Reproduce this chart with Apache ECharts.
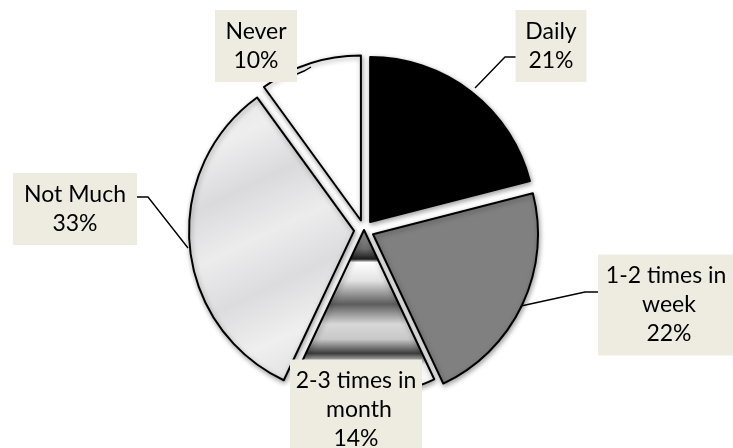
<!DOCTYPE html>
<html>
<head>
<meta charset="utf-8">
<script src="https://cdn.jsdelivr.net/npm/echarts@6.0.0/dist/echarts.min.js"></script>
<style>
html, body { margin: 0; padding: 0; background: #fff; }
#chart { width: 733px; height: 448px; }
</style>
</head>
<body>
<div id="chart"></div>
<script>
// survey answers, clockwise from 12 o'clock
var categories = ['Daily', '1-2 times in week', '2-3 times in month', 'Not Much', 'Never'];
var shares = [21, 22, 14, 33, 10];
// Excel exploded every slice except the small one
var exploded = [true, true, false, true, true];

var echarts = window.echarts;

// stripey metallic fill of the "2-3 times in month" slice
var stripes = new echarts.graphic.LinearGradient(0, 0, 0, 1, [
    { offset: 0.00, color: '#a8a8a8' },
    { offset: 0.12, color: '#6a6a6a' },
    { offset: 0.18, color: '#1c1c1c' },
    { offset: 0.20, color: '#ffffff' },
    { offset: 0.31, color: '#e2e2e2' },
    { offset: 0.45, color: '#5c5c5c' },
    { offset: 0.57, color: '#d8d8d8' },
    { offset: 0.66, color: '#c8c8c8' },
    { offset: 0.745, color: '#3c3c3c' },
    { offset: 0.81, color: '#f2f2f2' },
    { offset: 1.00, color: '#ffffff' }
]);

// light marble look for "Not Much"
var marble = new echarts.graphic.LinearGradient(0, 0, 0.8, 1, [
    { offset: 0.00, color: '#e4e4e6' },
    { offset: 0.18, color: '#eeeeef' },
    { offset: 0.34, color: '#dadadc' },
    { offset: 0.50, color: '#ececed' },
    { offset: 0.66, color: '#dcdcde' },
    { offset: 0.82, color: '#efefef' },
    { offset: 1.00, color: '#dedee0' }
]);

var fills = ['#000000', '#808080', stripes, marble, '#ffffff'];

// where the label boxes sit (box centre) and the leader line of each
var labelSpots = [
    { x: 551, y: 46, width: 63, line: [[475, 88], [505, 57], [516, 57]] },
    { x: 669, y: 305, width: 134, line: [[521, 306], [585, 292], [598, 292]] },
    { x: 356, y: 410, width: 124, line: null },
    { x: 75, y: 209, width: 116, line: [[188, 248], [148, 197], [137, 197]] },
    { x: 256, y: 46, width: 74, line: [[311, 67], [304, 71], [297, 74]] }
];

var pieData = [];
var labelData = [];
for (var i = 0; i < categories.length; i++) {
    pieData.push({
        name: categories[i],
        value: shares[i],
        selected: exploded[i],
        itemStyle: { color: fills[i] }
    });
    labelData.push({
        name: categories[i],
        value: shares[i],
        label: { width: labelSpots[i].width },
        labelLine: { show: labelSpots[i].line !== null }
    });
}

var options = {
    animation: false,
    backgroundColor: '#ffffff',
    series: [
        {
            type: 'pie',
            center: [364, 230],
            radius: 165,
            startAngle: 90,
            clockwise: true,
            selectedMode: 'multiple',
            selectedOffset: 10,
            data: pieData,
            label: { show: false },
            labelLine: { show: false },
            itemStyle: {
                borderColor: '#000000',
                borderWidth: 2,
                shadowBlur: 5,
                shadowColor: 'rgba(0,0,0,0.35)',
                shadowOffsetX: 1,
                shadowOffsetY: 2
            },
            select: {
                itemStyle: { borderColor: '#000000', borderWidth: 2 }
            }
        },
        {
            // same pie again, invisible, only to carry the label boxes
            type: 'pie',
            center: [364, 230],
            radius: 165,
            startAngle: 90,
            clockwise: true,
            silent: true,
            z: 3,
            avoidLabelOverlap: false,
            data: labelData,
            itemStyle: { color: 'rgba(0,0,0,0)', borderWidth: 0 },
            label: {
                show: true,
                position: 'outside',
                formatter: '{b}\n{d}%',
                fontFamily: 'Lato',
                fontSize: 23,
                lineHeight: 29,
                color: '#000000',
                backgroundColor: '#eeece1',
                padding: [7, 4],
                align: 'center',
                overflow: 'break'
            },
            labelLine: {
                show: true,
                lineStyle: { color: '#000000', width: 1.4 }
            },
            labelLayout: function (params) {
                var spot = labelSpots[params.dataIndex];
                var out = { x: spot.x, y: spot.y, align: 'center', verticalAlign: 'middle' };
                if (spot.line) out.labelLinePoints = spot.line;
                return out;
            }
        }
    ]
};

var myChart = echarts.init(document.getElementById('chart'));
myChart.setOption(options);
</script>
</body>
</html>
